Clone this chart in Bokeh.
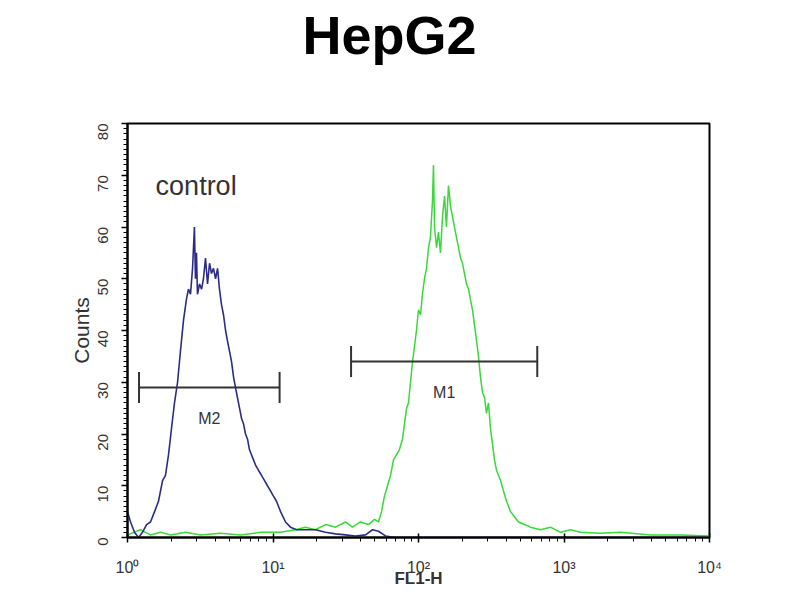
import math
from bokeh.plotting import figure
from bokeh.models import Title, Label, Range1d, FixedTicker
from bokeh.embed import file_html
from bokeh.resources import INLINE

# ---- data (FL1-H given as decades, log10 of channel value) ----
control_decade = [0.000, 0.021, 0.048, 0.076, 0.103, 0.131, 0.158, 0.186, 0.213, 0.241,
                  0.261, 0.282, 0.302, 0.323, 0.344, 0.364, 0.385, 0.405, 0.419, 0.433,
                  0.447, 0.460, 0.467, 0.474, 0.481, 0.495, 0.509, 0.522, 0.536, 0.550,
                  0.564, 0.577, 0.591, 0.605, 0.619, 0.632, 0.646, 0.660, 0.674, 0.687,
                  0.701, 0.715, 0.729, 0.742, 0.756, 0.770, 0.784, 0.797, 0.811, 0.825,
                  0.838, 0.852, 0.866, 0.880, 0.900, 0.921, 0.942, 0.962, 0.983, 1.003,
                  1.024, 1.052, 1.086, 1.120, 1.162, 1.223, 1.292, 1.361, 1.430, 1.498,
                  1.567, 1.636, 1.684, 1.725, 1.773, 1.842, 2.082, 2.564, 3.251, 4.000]
control_counts = [5, 3, 1, 0, 1, 2.5, 3, 5, 7, 11,
                  12, 16, 21, 26, 30, 36, 42, 46, 48, 47,
                  52, 60, 50, 55, 47, 49, 48, 50, 54, 49,
                  53, 51, 52, 50, 52, 48, 45, 43, 40, 38,
                  36, 34, 31, 29, 27, 25, 23, 22, 20, 19,
                  17, 16, 15, 14, 13, 12, 11, 10, 9, 8,
                  7, 5, 3, 2, 1.5, 1.5, 1.5, 1, 0.7, 0.5,
                  0.3, 0.5, 1.5, 1.2, 0.3, 0, 0, 0, 0, 0]

sample_decade = [0.000, 0.089, 0.158, 0.227, 0.296, 0.399, 0.502, 0.639, 0.777, 0.914,
                 1.052, 1.155, 1.223, 1.292, 1.361, 1.430, 1.498, 1.546, 1.601, 1.656,
                 1.698, 1.725, 1.746, 1.766, 1.787, 1.808, 1.828, 1.849, 1.869, 1.890,
                 1.904, 1.918, 1.931, 1.945, 1.959, 1.973, 1.986, 2.000, 2.014, 2.027,
                 2.041, 2.055, 2.069, 2.082, 2.096, 2.103, 2.110, 2.124, 2.137, 2.151,
                 2.165, 2.179, 2.192, 2.206, 2.220, 2.234, 2.247, 2.261, 2.275, 2.289,
                 2.302, 2.316, 2.330, 2.344, 2.357, 2.371, 2.385, 2.399, 2.412, 2.426,
                 2.440, 2.454, 2.467, 2.481, 2.495, 2.509, 2.522, 2.536, 2.550, 2.564,
                 2.584, 2.605, 2.632, 2.660, 2.687, 2.729, 2.770, 2.838, 2.907, 2.976,
                 3.045, 3.113, 3.251, 3.388, 3.594, 3.801, 4.000]
sample_counts = [0.5, 1.5, 0.5, 1, 0.5, 1, 0.5, 0.8, 0.5, 1,
                 1, 1.5, 2, 1.5, 2.5, 2, 3, 2, 3, 2.5,
                 3.5, 3, 5, 8, 10, 12, 15, 16, 17, 19,
                 22, 25, 26, 30, 34, 37, 40, 44, 43, 47,
                 50, 52, 56, 58, 65, 72, 60, 56, 59, 55,
                 62, 66, 60, 68, 64, 62, 60, 58, 56, 54,
                 53, 51, 49, 48, 46, 44, 41, 38, 35, 31,
                 28, 27, 24, 26, 21, 18, 15, 13, 12, 11,
                 9, 7, 5, 4, 3, 2.5, 2, 1.5, 2, 1,
                 1.5, 1, 0.8, 1, 0.5, 0.5, 0.3]

marker_names = ["M2", "M1"]
marker_lo = [1.2, 34.4]
marker_hi = [11.1, 655.0]
marker_level = [29.0, 34.0]

x_tick_values = [1, 10, 100, 1000, 10000]
x_tick_labels = ["10\u2070", "10\u00b9", "10\u00b2", "10\u00b3", "10\u2074"]
y_tick_values = [0, 10, 20, 30, 40, 50, 60, 70, 80]

FONT = "Liberation Sans"
BLUE = "#2c2c86"
GREEN = "#3ad83a"
DARK = "#333333"

p = figure(width=798, height=598, x_axis_type="log", output_backend="svg",
           toolbar_location=None, x_range=Range1d(1, 10000), y_range=Range1d(0, 80),
           min_border_left=127, min_border_right=89, min_border_top=123,
           min_border_bottom=61)
# spacer between the frame and the title, then the title itself on top
p.add_layout(Title(text=" ", text_font_size="10px", standoff=46), "above")
p.add_layout(Title(text="HepG2", text_font=FONT, text_font_size="54px",
                   text_font_style="bold", text_color="black", align="left",
                   offset=175, standoff=0), "above")

p.grid.visible = False
p.outline_line_color = "black"
p.outline_line_width = 2

sx = [10 ** d for d in sample_decade]
cx = [10 ** d for d in control_decade]
p.line(sx, sample_counts, line_color=GREEN, line_width=1.5)
p.line(cx, control_counts, line_color=BLUE, line_width=1.6)

# gate markers
cap = 3.0
p.segment(x0=marker_lo, y0=marker_level, x1=marker_hi, y1=marker_level,
          line_color=DARK, line_width=2)
p.segment(x0=marker_lo, y0=[v - cap for v in marker_level], x1=marker_lo,
          y1=[v + cap for v in marker_level], line_color=DARK, line_width=2)
p.segment(x0=marker_hi, y0=[v - cap for v in marker_level], x1=marker_hi,
          y1=[v + cap for v in marker_level], line_color=DARK, line_width=2)
for name, lo, hi, lev in zip(marker_names, marker_lo, marker_hi, marker_level):
    p.add_layout(Label(x=math.sqrt(lo * hi), y=lev - 6, text=name,
                       text_align="center", text_baseline="middle",
                       text_font=FONT, text_font_size="16px", text_color=DARK))

p.add_layout(Label(x=1.56, y=68, text="control", text_align="left",
                   text_baseline="alphabetic", text_font=FONT,
                   text_font_size="27px", text_color=DARK))

# axes
xa = p.xaxis[0]
xa.ticker = FixedTicker(ticks=x_tick_values,
                        minor_ticks=[m * 10 ** k for k in range(4) for m in range(2, 10)])
xa.major_label_overrides = {v: t for v, t in zip(x_tick_values, x_tick_labels)}
xa.axis_label = "FL1-H"
xa.axis_label_text_font = FONT
xa.axis_label_text_font_style = "bold"
xa.axis_label_text_font_size = "17px"
xa.axis_label_standoff = -10
xa.major_label_text_font = FONT
xa.major_label_text_font_size = "16px"
xa.major_label_standoff = 16
xa.major_tick_in = 4
xa.major_tick_out = 5
xa.minor_tick_in = 0
xa.minor_tick_out = 4
xa.axis_line_width = 2

ya = p.yaxis[0]
ya.ticker = FixedTicker(ticks=y_tick_values, minor_ticks=list(range(0, 81)))
ya.axis_label = "Counts"
ya.axis_label_text_font = FONT
ya.axis_label_text_font_style = "normal"
ya.axis_label_text_font_size = "21px"
ya.axis_label_standoff = -3
ya.major_label_text_font = FONT
ya.major_label_text_font_size = "15px"
ya.major_label_orientation = math.pi / 2
ya.major_label_standoff = 19
ya.major_tick_in = 0
ya.major_tick_out = 6
ya.minor_tick_in = 0
ya.minor_tick_out = 4
ya.axis_line_width = 2

for ax in (xa, ya):
    ax.axis_line_color = "black"
    ax.major_tick_line_color = "black"
    ax.minor_tick_line_color = "black"
    ax.major_tick_line_width = 1.5
    ax.minor_tick_line_width = 1
    ax.major_label_text_color = DARK
    ax.axis_label_text_color = DARK

open("out.html", "w").write(file_html(p, INLINE))
